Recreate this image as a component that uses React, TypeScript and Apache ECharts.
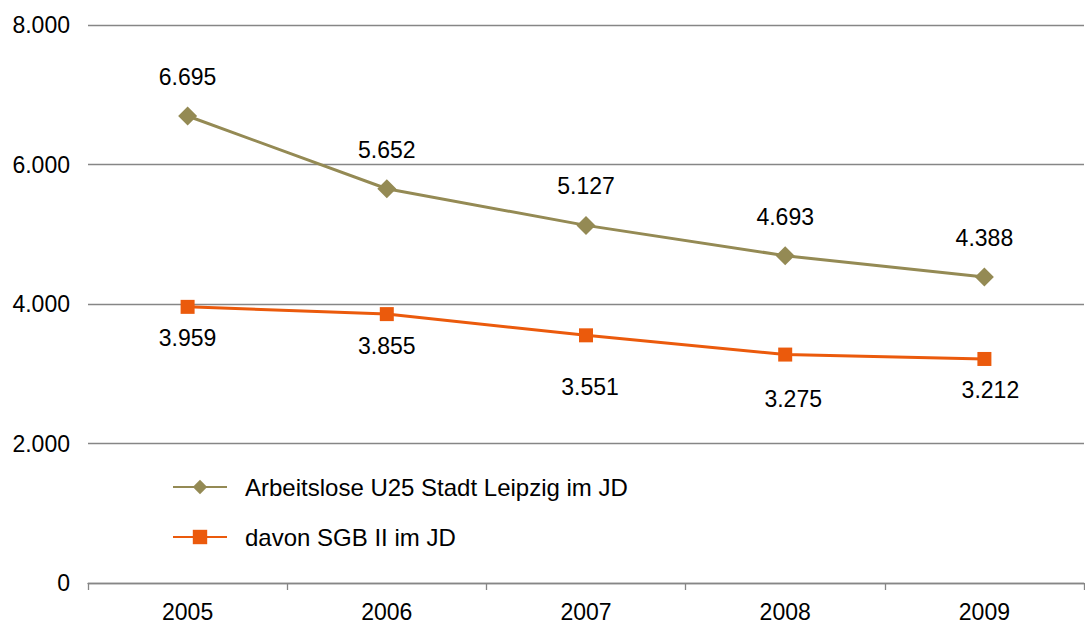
import React, { useEffect, useRef } from "react";
import * as echarts from "echarts";

const years = ["2005", "2006", "2007", "2008", "2009"];
const arbeitslose = [6695, 5652, 5127, 4693, 4388];
const sgb2 = [3959, 3855, 3551, 3275, 3212];
const sgb2LabelOffsets = [[0, 0], [0, 0], [4, 20], [8, 13], [6, 0]];
const yTicks = [0, 2000, 4000, 6000, 8000];

const fmt = (v: number) => {
  const s = String(Math.round(v));
  return s.replace(/\B(?=(\d{3})+(?!\d))/g, ".");
};

export default function App() {
  const ref = useRef<HTMLDivElement>(null);
  useEffect(() => {
    document.body.style.margin = "0";
    const chart = echarts.init(ref.current!, null, { renderer: "svg" });
    const font = "Liberation Sans, Arial, sans-serif";
    chart.setOption({
      animation: false,
      backgroundColor: "#ffffff",
      textStyle: { fontFamily: font },
      grid: { left: 88, right: 1, top: 25, bottom: 41 },
      legend: {
        orient: "vertical",
        left: 172,
        top: 475,
        padding: 0,
        itemWidth: 54,
        itemHeight: 18,
        itemGap: 26,
        textStyle: { fontSize: 24, color: "#000", fontFamily: font, lineHeight: 24, padding: [0, 0, 0, 13] },
        data: ["Arbeitslose U25 Stadt Leipzig im JD", "davon SGB II im JD"],
      },
      xAxis: {
        type: "category",
        data: years,
        boundaryGap: true,
        axisLine: { lineStyle: { color: "#868686", width: 1.3 } },
        axisTick: { show: true, length: 7, lineStyle: { color: "#868686", width: 1.3 } },
        axisLabel: { fontSize: 23, color: "#000", margin: 17, fontFamily: font },
      },
      yAxis: {
        type: "value",
        min: 0,
        max: 8000,
        interval: 2000,
        axisLine: { show: false },
        axisTick: { show: false },
        splitLine: { lineStyle: { color: "#868686", width: 1.3 } },
        axisLabel: {
          fontSize: 23,
          color: "#000",
          margin: 18,
          fontFamily: font,
          formatter: (v: number) => (yTicks.includes(v) ? fmt(v) : ""),
        },
      },
      series: [
        {
          name: "Arbeitslose U25 Stadt Leipzig im JD",
          type: "line",
          data: arbeitslose,
          color: "#948A54",
          symbol: "diamond",
          symbolSize: 19,
          lineStyle: { width: 3, color: "#948A54" },
          itemStyle: { color: "#948A54" },
          label: {
            show: true,
            position: "top",
            distance: 18,
            fontSize: 23,
            color: "#000",
            fontFamily: font,
            formatter: (p: any) => fmt(p.value),
          },
        },
        {
          name: "davon SGB II im JD",
          type: "line",
          data: sgb2.map((v, i) => ({
            value: v,
            label: { offset: sgb2LabelOffsets[i] },
          })),
          color: "#EB5A0C",
          symbol: "rect",
          symbolSize: 14,
          lineStyle: { width: 3, color: "#EB5A0C" },
          itemStyle: { color: "#EB5A0C" },
          label: {
            show: true,
            position: "bottom",
            distance: 13,
            fontSize: 23,
            color: "#000",
            fontFamily: font,
            formatter: (p: any) => fmt(p.value),
          },
        },
      ],
    });
    return () => chart.dispose();
  }, []);
  return <div ref={ref} style={{ width: 1085, height: 624 }} />;
}
